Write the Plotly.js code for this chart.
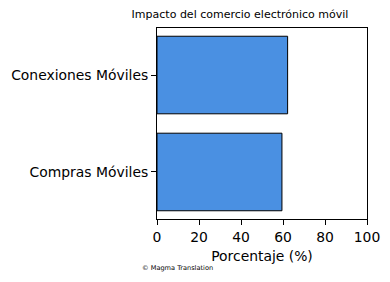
<!DOCTYPE html>
<html>
<head>
<meta charset="utf-8">
<script src="https://cdn.plot.ly/plotly-3.0.1.min.js"></script>
<style>html,body{margin:0;padding:0;background:#fff;}#chart{width:390px;height:282px;}</style>
</head>
<body>
<div id="chart"></div>
<script>
const categories = ['Compras Móviles', 'Conexiones Móviles'];
const values = [59.5, 62.2];
const xTicks = [0, 20, 40, 60, 80, 100];
const chartTitle = 'Impacto del comercio electrónico móvil';
const xTitle = 'Porcentaje (%)';
const credit = '© Magma Translation';

const W = 390, H = 282;
const L = 156.5, R = 22.5, T = 27.5, B = 62.5;
const pw = W - L - R, ph = H - T - B;
const font = 'DejaVu Sans, sans-serif';

const trace = {
  type: 'bar',
  orientation: 'h',
  y: categories,
  x: values,
  width: 0.8,
  marker: {color: '#4a90e2', line: {color: '#000000', width: 1}},
  hoverinfo: 'none'
};

const layout = {
  width: W, height: H,
  margin: {l: L, r: R, t: T, b: B, pad: 0},
  paper_bgcolor: '#ffffff',
  plot_bgcolor: '#ffffff',
  showlegend: false,
  font: {family: font, color: '#000000', size: 13.9},
  title: {
    text: chartTitle,
    font: {family: font, size: 11, color: '#000000'},
    x: 240 / W, xref: 'container', xanchor: 'center',
    y: 1 - 14 / H, yref: 'container', yanchor: 'middle'
  },
  xaxis: {
    range: [0, 100],
    tickvals: xTicks,
    ticktext: xTicks.map(String),
    ticks: 'outside', ticklen: 5, tickwidth: 1, tickcolor: '#000',
    showline: true, linecolor: '#000', linewidth: 1, mirror: true,
    showgrid: false, zeroline: false,
    tickfont: {family: font, size: 13.9, color: '#000'},
    title: {text: xTitle, font: {family: font, size: 13.9, color: '#000'}, standoff: 7}
  },
  yaxis: {
    type: 'category',
    range: [-0.485, 1.485],
    ticks: 'outside', ticklen: 5, tickwidth: 1, tickcolor: '#000',
    showline: true, linecolor: '#000', linewidth: 1, mirror: true,
    showgrid: false, zeroline: false,
    tickfont: {family: font, size: 13.9, color: '#000'}
  },
  annotations: [{
    text: credit,
    xref: 'paper', yref: 'paper',
    x: (177.5 - L) / pw, y: (H - B - 269) / ph,
    xanchor: 'center', yanchor: 'middle',
    showarrow: false,
    font: {family: font, size: 6.6, color: '#000'}
  }]
};

Plotly.newPlot('chart', [trace], layout, {staticPlot: true, displayModeBar: false});
</script>
</body>
</html>
